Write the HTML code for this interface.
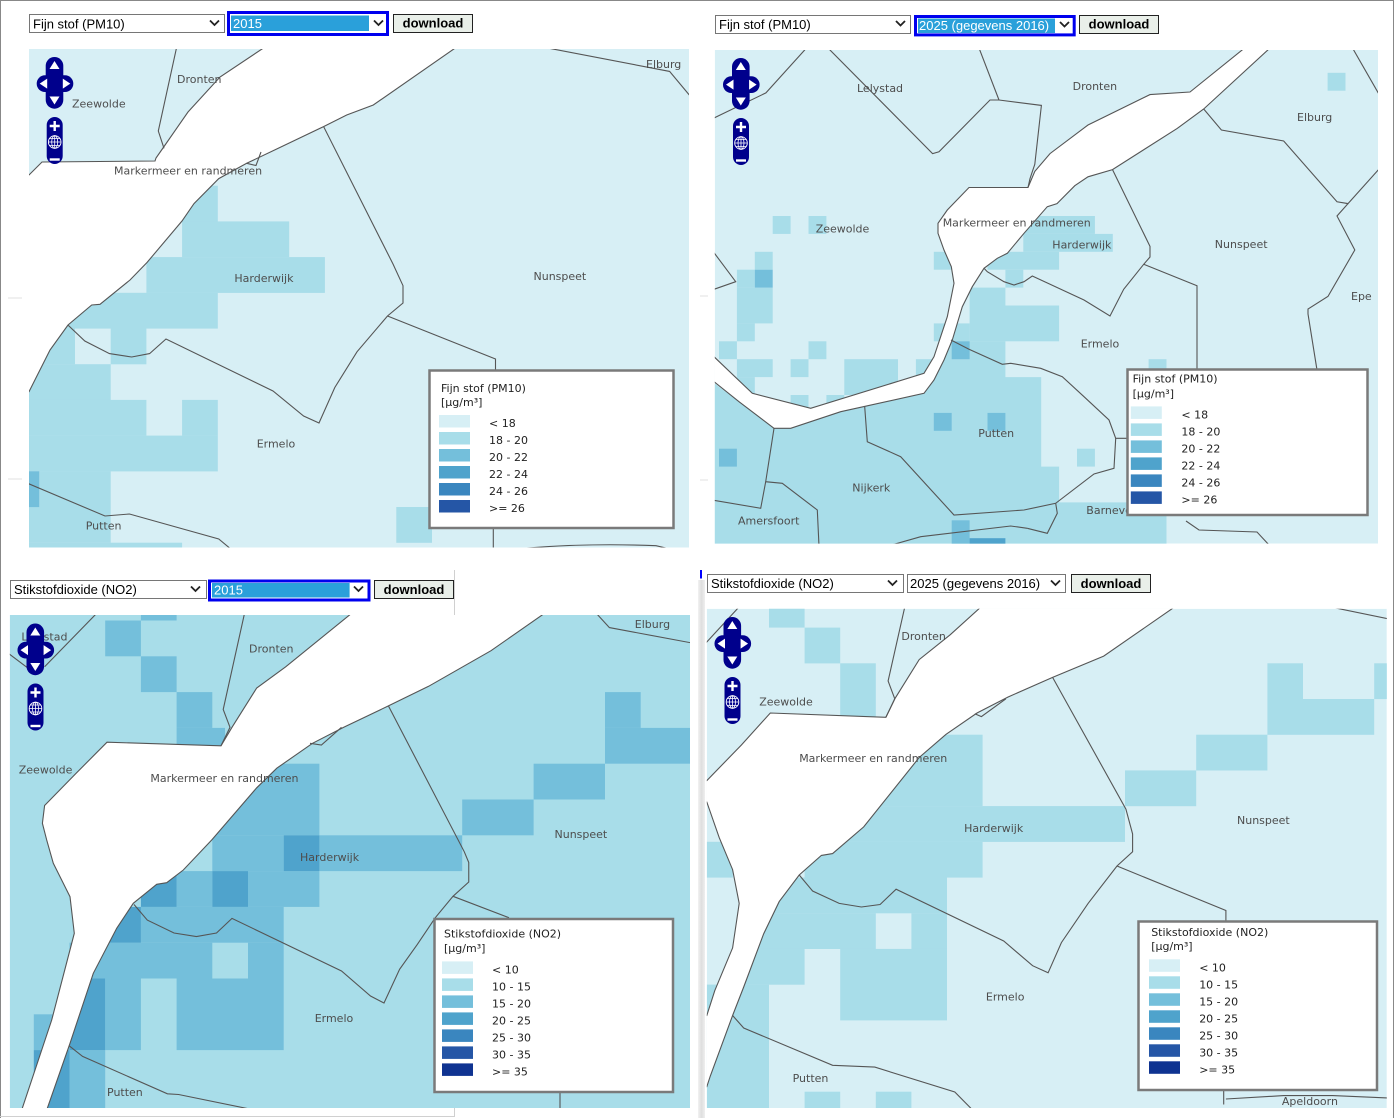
<!DOCTYPE html>
<html><head><meta charset="utf-8"><style>
html,body{margin:0;padding:0;background:#fff;}
body{width:1394px;height:1118px;overflow:hidden;}
svg{display:block;}
.l{font-family:"DejaVu Sans",Verdana,sans-serif;font-size:11px;fill:#4d4d4d;}
.g{font-family:"DejaVu Sans",Verdana,sans-serif;font-size:11px;fill:#222;}
.s{font-family:"Liberation Sans",Arial,sans-serif;font-size:13px;fill:#000;}
.sw{font-family:"Liberation Sans",Arial,sans-serif;font-size:13px;fill:#fff;}
.b{font-family:"Liberation Sans",Arial,sans-serif;font-size:13px;font-weight:bold;fill:#000;}
.ln{fill:none;stroke:#555;stroke-width:1.1;}
.lk{fill:#fff;stroke:#555;stroke-width:1.1;}
.ch{fill:none;stroke:#222;stroke-width:1.8;}
</style></head><body>
<svg width="1394" height="1118" viewBox="0 0 1394 1118" xmlns="http://www.w3.org/2000/svg">
<defs>
<clipPath id="c1"><rect x="29" y="49" width="660" height="498.5"/></clipPath>
<clipPath id="c2"><rect x="714.8" y="50" width="663.2" height="493.6"/></clipPath>
<clipPath id="c3"><rect x="9.8" y="615" width="680.2" height="493"/></clipPath>
<clipPath id="c4"><rect x="706.8" y="608.8" width="680" height="499.2"/></clipPath>
<linearGradient id="gs" x1="0" x2="1" y1="0" y2="0"><stop offset="0" stop-color="#f2f2f2"/><stop offset="0.5" stop-color="#dedede"/><stop offset="1" stop-color="#efefef"/></linearGradient>
<g id="nav">
 <rect x="9" y="0" width="17.6" height="51.7" rx="8.8" fill="#00008c"/>
 <rect x="0" y="18.3" width="36.6" height="16.7" rx="8.3" fill="#00008c"/>
 <polygon points="17.8,4 12.8,12 22.8,12" fill="#fff"/>
 <polygon points="17.8,47.5 12.8,39.5 22.8,39.5" fill="#fff"/>
 <polygon points="3,26.6 10.5,21.6 10.5,31.6" fill="#fff"/>
 <polygon points="33.6,26.6 26.1,21.6 26.1,31.6" fill="#fff"/>
 <rect x="10" y="60" width="16" height="47" rx="8" fill="#00008c"/>
 <path d="M13,69h10M18,64v10" stroke="#fff" stroke-width="2.4"/>
 <circle cx="18" cy="85" r="6.3" fill="none" stroke="#fff" stroke-width="0.9"/>
 <ellipse cx="18" cy="85" rx="3" ry="6.3" fill="none" stroke="#fff" stroke-width="0.8"/>
 <path d="M11.7,85h12.6M12.5,81.5h11M12.5,88.5h11M18,78.7v12.6" stroke="#fff" stroke-width="0.8"/>
 <path d="M13,102.5h10" stroke="#fff" stroke-width="2.4"/>
</g>
</defs>

<!-- page frame -->
<rect x="0" y="0" width="1394" height="1118" fill="#fff"/>
<line x1="0" y1="0.5" x2="1394" y2="0.5" stroke="#888" stroke-width="1"/>
<line x1="0.5" y1="0" x2="0.5" y2="1118" stroke="#888" stroke-width="1"/>
<line x1="1393.5" y1="0" x2="1393.5" y2="1118" stroke="#888" stroke-width="1"/>
<line x1="454.5" y1="570" x2="454.5" y2="1117" stroke="#d0d0d0" stroke-width="1"/>
<line x1="0" y1="1116.5" x2="454.5" y2="1116.5" stroke="#d0d0d0" stroke-width="1"/>
<rect x="698" y="580" width="7" height="538" fill="url(#gs)"/>
<rect x="700" y="570" width="2" height="8.5" fill="#0000ff"/>
<path d="M8,298h14M8,479h14M700,296h8M700,480h8" stroke="#e0e0e0" stroke-width="1"/>

<!-- ================= PANEL 1 ================= -->
<rect x="29.5" y="14.5" width="195" height="18" fill="#fff" stroke="#767676"/>
<text class="s" x="33" y="28.5">Fijn stof (PM10)</text>
<polyline class="ch" points="210,20.5 214.5,25 219,20.5"/>
<rect x="228.5" y="12.5" width="159" height="22" fill="#fff" stroke="#0000ee" stroke-width="3"/>
<rect x="231" y="15.5" width="138" height="15.5" fill="#2aa0da"/>
<text class="sw" x="233" y="28">2015</text>
<polyline class="ch" points="374,20.5 378.5,25 383,20.5"/>
<rect x="393.5" y="14.5" width="79" height="18" fill="#e9efe9" stroke="#222"/>
<text class="b" x="433" y="27.5" text-anchor="middle">download</text>

<g clip-path="url(#c1)">
<rect x="29" y="49" width="660" height="498.5" fill="#d7eff5"/>
<g fill="#a8dde9">
<rect x="182.1" y="185.7" width="35.7" height="35.8"/>
<rect x="182.1" y="221.4" width="107.1" height="35.8"/>
<rect x="146.4" y="257.1" width="178.5" height="35.8"/>
<rect x="29" y="292.8" width="188.8" height="35.8"/>
<rect x="29" y="328.5" width="46" height="35.8"/>
<rect x="110.7" y="328.5" width="35.7" height="35.8"/>
<rect x="29" y="364.2" width="81.7" height="35.8"/>
<rect x="29" y="399.9" width="117.4" height="35.8"/>
<rect x="182.1" y="399.9" width="35.7" height="35.8"/>
<rect x="29" y="435.6" width="188.8" height="35.8"/>
<rect x="39.3" y="471.3" width="71.4" height="35.8"/>
<rect x="29" y="507" width="81.7" height="35.8"/>
<rect x="396.3" y="507" width="35.7" height="35.8"/>
<rect x="29" y="542.7" width="153.1" height="6"/>
</g>
<rect x="29" y="471.3" width="10.3" height="35.8" fill="#74bfdb"/>
<path class="lk" d="M265,47 L220,77 L188,112 L163,148 L156,158 L155,161 L42,162 L29,175 L27,175 L27,392 L29,391.7 L50,350 L68,325 L91.7,305 L100,304.3 L130,280 L147,262.5 L182,221 L194,203.6 L218.75,178.6 L246.7,163.3 L276.7,149 L323.3,126.7 L346.7,115 L373.3,105 L456.7,47 Z"/>
<path class="ln" d="M246.7,163.3 L256,165.5 L261,152"/>
<path class="ln" d="M67.9,325 L84.8,341 L109.4,353.6 L131.7,357 L149.6,353.6 L166,339 L273,391 L303.6,416 L319,423 L334.8,387.5 L357,351.8 L387.5,316 L403,303 L403,285.7 L393,264 L323.7,126.8"/>
<path class="ln" d="M387.5,316 L495.5,359 L495.5,372"/>
<path class="ln" d="M493.3,526 L493.3,550"/>
<path class="ln" d="M526.8,548 Q590,543 656,545.7 L666,548"/>
<path class="ln" d="M27,483 L105,516 L129.5,514 L218.75,539 L232,550"/>
<path class="ln" d="M542.4,47 L669.6,71.4 L691,97"/>
<path class="ln" d="M176.7,47 L158.3,131 L164,148.3"/>
<text class="l" x="177" y="83">Dronten</text>
<text class="l" x="72" y="107.5">Zeewolde</text>
<text class="l" x="114" y="174.5">Markermeer en randmeren</text>
<text class="l" x="646" y="68">Elburg</text>
<text class="l" x="234.4" y="282">Harderwijk</text>
<text class="l" x="533.5" y="280">Nunspeet</text>
<text class="l" x="256.7" y="447.5">Ermelo</text>
<text class="l" x="85.7" y="529.5">Putten</text>
<rect x="429.5" y="370.5" width="244" height="157.5" fill="#fff" stroke="#7a7a7a" stroke-width="2.5"/>
<text class="g" x="441" y="392">Fijn stof (PM10)</text>
<text class="g" x="441" y="406">[μg/m³]</text>
<rect x="439" y="415" width="31" height="12.5" fill="#d7eff5"/>
<rect x="439" y="432" width="31" height="12.5" fill="#a8dde9"/>
<rect x="439" y="449" width="31" height="12.5" fill="#74bfdb"/>
<rect x="439" y="466" width="31" height="12.5" fill="#4fa3cc"/>
<rect x="439" y="483" width="31" height="12.5" fill="#3a86bf"/>
<rect x="439" y="500" width="31" height="12.5" fill="#2556a6"/>
<text class="g" x="489" y="427">&lt; 18</text>
<text class="g" x="489" y="444">18 - 20</text>
<text class="g" x="489" y="461">20 - 22</text>
<text class="g" x="489" y="478">22 - 24</text>
<text class="g" x="489" y="495">24 - 26</text>
<text class="g" x="489" y="512">&gt;= 26</text>
</g>
<use href="#nav" x="36.7" y="57"/>

<!-- ================= PANEL 2 ================= -->
<rect x="715.5" y="15.5" width="195" height="18" fill="#fff" stroke="#767676"/>
<text class="s" x="719" y="29">Fijn stof (PM10)</text>
<polyline class="ch" points="896,21 900.5,25.5 905,21"/>
<rect x="915.5" y="16.5" width="158.7" height="18.4" fill="#fff" stroke="#0000ee" stroke-width="3"/>
<rect x="918" y="18.5" width="137" height="14.5" fill="#2aa0da"/>
<text class="sw" x="919" y="30">2025 (gegevens 2016)</text>
<polyline class="ch" points="1060,22 1064.5,26.5 1069,22"/>
<rect x="1079.5" y="15.5" width="79" height="18" fill="#e9efe9" stroke="#222"/>
<text class="b" x="1119" y="28.5" text-anchor="middle">download</text>

<g clip-path="url(#c2)">
<rect x="714.8" y="50" width="663.2" height="493.6" fill="#d7eff5"/>
<g fill="#a8dde9">
<rect x="1327.6" y="72.8" width="17.9" height="17.9"/>
<rect x="772.7" y="216" width="17.9" height="17.9"/>
<rect x="808.5" y="216" width="17.9" height="17.9"/>
<rect x="1023.3" y="216" width="71.6" height="17.9"/>
<rect x="1023.3" y="233.9" width="89.5" height="17.9"/>
<rect x="754.8" y="251.8" width="17.9" height="17.9"/>
<rect x="933.8" y="251.8" width="17.9" height="17.9"/>
<rect x="987.5" y="251.8" width="71.6" height="17.9"/>
<rect x="736.9" y="269.7" width="17.9" height="17.9"/>
<rect x="1005.4" y="269.7" width="17.9" height="17.9"/>
<rect x="736.9" y="287.6" width="35.8" height="35.8"/>
<rect x="969.6" y="287.6" width="35.8" height="17.9"/>
<rect x="969.6" y="305.5" width="89.5" height="35.8"/>
<rect x="736.9" y="323.4" width="17.9" height="17.9"/>
<rect x="933.8" y="323.4" width="35.8" height="17.9"/>
<rect x="719" y="341.3" width="17.9" height="17.9"/>
<rect x="808.5" y="341.3" width="17.9" height="17.9"/>
<rect x="736.9" y="359.2" width="35.8" height="17.9"/>
<rect x="790.6" y="359.2" width="17.9" height="17.9"/>
<rect x="844.3" y="359.2" width="53.7" height="35.8"/>
<rect x="915.9" y="359.2" width="17.9" height="17.9"/>
<rect x="1148.6" y="359.2" width="17.9" height="17.9"/>
<rect x="736.9" y="377.1" width="17.9" height="17.9"/>
<rect x="790.6" y="395" width="17.9" height="17.9"/>
<rect x="826.4" y="395" width="17.9" height="17.9"/>
<path d="M712,381.7 L739,401.7 L774,428.3 L790.7,428.3 L840.7,411.7 L924,393.3 L934,380 L944,360 L948,341.3 L1005.4,341.3 L1005.4,377.1 L1041.2,377.1 L1041.2,466.6 L1059.1,466.6 L1059.1,502.4 L1166.5,502.4 L1166.5,546 L712,546 Z"/>
<rect x="1077" y="448.7" width="17.9" height="17.9"/>
</g>
<g fill="#74bfdb">
<rect x="754.8" y="269.7" width="17.9" height="17.9"/>
<rect x="951.7" y="341.3" width="17.9" height="17.9"/>
<rect x="933.8" y="412.9" width="17.9" height="17.9"/>
<rect x="987.5" y="412.9" width="17.9" height="17.9"/>
<rect x="719" y="448.7" width="17.9" height="17.9"/>
<rect x="951.7" y="520.3" width="17.9" height="25"/>
</g>
<rect x="969.6" y="538.2" width="35.8" height="7" fill="#4fa3cc"/>
<path class="lk" d="M1244.6,48 L1190,92 L1150,94.6 L1088,125 L1050,153.6 L1034.8,171.4 L1028,187.5 L969,187.5 L947.3,210 L938,223.3 L938,233.3 L944,250 L951.3,266.7 L954,283.3 L947.3,316.7 L934,356.7 L924,373.3 L810.7,408.3 L752.3,393.3 L714,356.7 L712,356.7 L712,381.7 L714,381.7 L739,401.7 L774,428.3 L790.7,428.3 L840.7,411.7 L924,393.3 L934,380 L944,360 L952.3,340 L962.3,306.7 L972.3,286.7 L984,268.3 L997.3,258.3 L1007.3,253.3 L1024,233.3 L1047.3,206.7 L1057,203.6 L1074.8,185.7 L1088,176.8 L1112.5,169.6 L1177,128.6 L1203.7,109 L1270,48 Z"/>
<path class="ln" d="M712,119 L765.9,92.9 L806.5,48"/>
<path class="ln" d="M828,48 L932.6,153.6 L939,151.8 L990,100 L999,100 L1041.4,105.4 L1034.8,164.3 L1030,178.6 L1028,187.5"/>
<path class="ln" d="M979,48 L999,100"/>
<path class="ln" d="M1203.7,109 L1221.4,130 L1283.7,141 L1337,201.8 L1348,203.6 L1380,168"/>
<path class="ln" d="M1352.5,48 L1380,96"/>
<path class="ln" d="M1348,203.6 L1337,216 L1354.8,250 L1328,296.4 L1308,309 L1308,314 L1317,370"/>
<path class="ln" d="M1112.5,169.6 L1150,246.4 L1150,257 L1143.7,264.3 L1123.7,289.3 L1110,316 L1084,300 L1032.3,276 L1024,281.7 L1014,285 L1004,281.7 L987.3,271.7 L984,268.3"/>
<path class="ln" d="M1143.7,264.3 L1197,285.7 L1197,370"/>
<path class="ln" d="M951,340 L969,349.3 L1002.3,364.3 L1010.7,363.3 L1040.7,368.3 L1062.3,376.7 L1084,396.7 L1109,420 L1115.7,438.3 L1127.3,438.3"/>
<path class="ln" d="M1115.7,438.3 L1114,468.3 L1094,474 L1055.7,503.3 L1024,510 L954,515 L900.7,456.7 L867.3,441.7 L864.7,406.7"/>
<path class="ln" d="M1055.7,503.3 L1057.3,513.3 L1047.3,533.3 L1027.3,528.3"/>
<path class="ln" d="M888,546 L920.7,536.7 L1010.7,526 L1027.3,528.3"/>
<path class="ln" d="M774,428.3 L765.7,481.7 L782.3,483.3 L817.3,510 L819,546"/>
<path class="ln" d="M712,500 L760.7,508.3 L765.7,481.7"/>
<path class="ln" d="M712,250 L735.7,281.7 L712,290"/>
<path class="ln" d="M1186,521 L1199,530 L1257,532 L1270,546"/>
<text class="l" x="857" y="92">Lelystad</text>
<text class="l" x="1072.6" y="90">Dronten</text>
<text class="l" x="1297" y="121">Elburg</text>
<text class="l" x="815.7" y="232.5">Zeewolde</text>
<text class="l" x="942.7" y="226.5">Markermeer en randmeren</text>
<text class="l" x="1052.3" y="248.5">Harderwijk</text>
<text class="l" x="1214.8" y="248">Nunspeet</text>
<text class="l" x="1351" y="300">Epe</text>
<text class="l" x="1080.7" y="347.7">Ermelo</text>
<text class="l" x="978.3" y="437">Putten</text>
<text class="l" x="852.3" y="491.3">Nijkerk</text>
<text class="l" x="738" y="524.7">Amersfoort</text>
<text class="l" x="1086.3" y="514">Barneveld</text>
<rect x="1127.5" y="369.5" width="240" height="145.5" fill="#fff" stroke="#7a7a7a" stroke-width="2.5"/>
<text class="g" x="1132.6" y="382.6">Fijn stof (PM10)</text>
<text class="g" x="1132.6" y="397.6">[μg/m³]</text>
<rect x="1130.8" y="406.4" width="31" height="12.5" fill="#d7eff5"/>
<rect x="1130.8" y="423.4" width="31" height="12.5" fill="#a8dde9"/>
<rect x="1130.8" y="440.4" width="31" height="12.5" fill="#74bfdb"/>
<rect x="1130.8" y="457.4" width="31" height="12.5" fill="#4fa3cc"/>
<rect x="1130.8" y="474.4" width="31" height="12.5" fill="#3a86bf"/>
<rect x="1130.8" y="491.4" width="31" height="12.5" fill="#2556a6"/>
<text class="g" x="1181.4" y="418.4">&lt; 18</text>
<text class="g" x="1181.4" y="435.4">18 - 20</text>
<text class="g" x="1181.4" y="452.4">20 - 22</text>
<text class="g" x="1181.4" y="469.4">22 - 24</text>
<text class="g" x="1181.4" y="486.4">24 - 26</text>
<text class="g" x="1181.4" y="503.4">&gt;= 26</text>
</g>
<use href="#nav" x="723" y="58"/>

<!-- ================= PANEL 3 ================= -->
<rect x="10.5" y="580.5" width="196" height="18" fill="#fff" stroke="#767676"/>
<text class="s" x="14" y="594">Stikstofdioxide (NO2)</text>
<polyline class="ch" points="191,586.5 195.5,591 200,586.5"/>
<rect x="209.5" y="581" width="159.5" height="19" fill="#fff" stroke="#0000ee" stroke-width="3"/>
<rect x="212" y="583" width="137.6" height="14.5" fill="#2aa0da"/>
<text class="sw" x="214" y="594.5">2015</text>
<polyline class="ch" points="354,586.5 358.5,591 363,586.5"/>
<rect x="374.5" y="580.5" width="79" height="18" fill="#e9efe9" stroke="#222"/>
<text class="b" x="414" y="594" text-anchor="middle">download</text>

<g clip-path="url(#c3)">
<rect x="9.8" y="615" width="680.2" height="493" fill="#a8dde9"/>
<g fill="#74bfdb">
<rect x="140.9" y="613" width="35.7" height="7.5"/>
<rect x="105.2" y="620.5" width="35.7" height="35.8"/>
<rect x="140.9" y="656.3" width="35.7" height="35.8"/>
<rect x="176.6" y="692.1" width="35.7" height="35.8"/>
<rect x="605" y="692.1" width="35.7" height="35.8"/>
<rect x="176.6" y="727.9" width="48.4" height="35.8"/>
<rect x="605" y="727.9" width="87" height="35.8"/>
<rect x="533.6" y="763.7" width="71.4" height="35.8"/>
<rect x="248" y="763.7" width="71.4" height="35.8"/>
<rect x="212.3" y="799.5" width="107.1" height="35.8"/>
<rect x="462.2" y="799.5" width="71.4" height="35.8"/>
<rect x="212.3" y="835.3" width="71.4" height="35.8"/>
<rect x="319.4" y="835.3" width="142.8" height="35.8"/>
<rect x="176.6" y="871.1" width="35.7" height="35.8"/>
<rect x="248" y="871.1" width="71.4" height="35.8"/>
<rect x="140.9" y="906.9" width="142.8" height="35.8"/>
<rect x="69.5" y="942.7" width="142.8" height="35.8"/>
<rect x="248" y="942.7" width="35.7" height="35.8"/>
<rect x="105.2" y="978.5" width="35.7" height="71.6"/>
<rect x="176.6" y="978.5" width="107.1" height="71.6"/>
<rect x="33.8" y="1014.3" width="35.7" height="35.8"/>
<rect x="69.5" y="1050.1" width="35.7" height="60"/>
</g>
<g fill="#4fa3cc">
<rect x="283.7" y="835.3" width="35.7" height="35.8"/>
<rect x="140.9" y="871.1" width="35.7" height="35.8"/>
<rect x="212.3" y="871.1" width="35.7" height="35.8"/>
<rect x="105.2" y="906.9" width="35.7" height="35.8"/>
<rect x="69.5" y="978.5" width="35.7" height="71.6"/>
<rect x="33.8" y="1050.1" width="35.7" height="60"/>
</g>
<path class="lk" d="M107,742.2 L221,745.8 L232,727.3 L256.7,688 L285.7,666.8 L352,613 L545,613 L491,650.7 L428.6,686.3 L388.4,705.9 L343.75,727.3 L312.5,743.3 L276.8,768.2 L256.7,787.8 L211.7,840 L183.3,870 L166.7,882.7 L156.7,884.3 L133.3,903.3 L116.7,928.3 L93.3,973.3 L70,1043.3 L46.7,1110 L21.7,1110 L51.7,1020 L71.7,943.3 L74.3,933.3 L70,896.7 L53.3,863.3 L46.7,840 L42.4,823.3 L44.6,805.5 L75.9,773.5 Z"/>
<path class="ln" d="M8,653 L35.7,673.9"/>
<path class="ln" d="M44.6,666.8 L97,613"/>
<path class="ln" d="M244.6,613 L223.2,709.5 L230,727.3 L221,745.8"/>
<path class="ln" d="M596,613 L609.4,627.6 L692,643"/>
<path class="ln" d="M388.4,705.9 L464.3,851.8 L468.75,862.5 L468.75,882 L453,896.3 L435.3,917.7 L417.4,944.3 L399.6,969.3 L384,1003 L370.5,996 L341.5,971 L232,918.4 L216.5,933 L196.4,936.6 L174,933 L147.3,920.1 L134,904.5"/>
<path class="ln" d="M453,896.3 L509,917.7"/>
<path class="ln" d="M560,1088 L560,1110"/>
<path class="ln" d="M69.2,1045.8 L82.6,1056.4 L167.4,1093.8 L178.6,1094.5 L254.5,1110"/>
<path class="ln" d="M310,743.3 L321.4,745 L341.5,727.3"/>
<text class="l" x="21.4" y="640.5">Lelystad</text>
<text class="l" x="249" y="652.3">Dronten</text>
<text class="l" x="634.8" y="628">Elburg</text>
<text class="l" x="18.75" y="773.3">Zeewolde</text>
<text class="l" x="150.4" y="782">Markermeer en randmeren</text>
<text class="l" x="300" y="861">Harderwijk</text>
<text class="l" x="554.5" y="838">Nunspeet</text>
<text class="l" x="314.7" y="1022">Ermelo</text>
<text class="l" x="107" y="1096">Putten</text>
<rect x="434.5" y="919" width="238.5" height="173" fill="#fff" stroke="#7a7a7a" stroke-width="2.5"/>
<text class="g" x="444" y="937.7">Stikstofdioxide (NO2)</text>
<text class="g" x="444" y="952">[μg/m³]</text>
<rect x="442" y="961.4" width="31" height="12.5" fill="#d7eff5"/>
<rect x="442" y="978.4" width="31" height="12.5" fill="#a8dde9"/>
<rect x="442" y="995.4" width="31" height="12.5" fill="#74bfdb"/>
<rect x="442" y="1012.4" width="31" height="12.5" fill="#4fa3cc"/>
<rect x="442" y="1029.4" width="31" height="12.5" fill="#3a86bf"/>
<rect x="442" y="1046.4" width="31" height="12.5" fill="#2556a6"/>
<rect x="442" y="1063.4" width="31" height="12.5" fill="#0f3391"/>
<text class="g" x="492" y="973.4">&lt; 10</text>
<text class="g" x="492" y="990.4">10 - 15</text>
<text class="g" x="492" y="1007.4">15 - 20</text>
<text class="g" x="492" y="1024.4">20 - 25</text>
<text class="g" x="492" y="1041.4">25 - 30</text>
<text class="g" x="492" y="1058.4">30 - 35</text>
<text class="g" x="492" y="1075.4">&gt;= 35</text>
</g>
<use href="#nav" x="17.5" y="623.5"/>

<!-- ================= PANEL 4 ================= -->
<rect x="707.5" y="574.5" width="196" height="18" fill="#fff" stroke="#767676"/>
<text class="s" x="711" y="588">Stikstofdioxide (NO2)</text>
<polyline class="ch" points="888,580.5 892.5,585 897,580.5"/>
<rect x="907.5" y="574.5" width="158" height="18" fill="#fff" stroke="#767676"/>
<text class="s" x="910" y="588">2025 (gegevens 2016)</text>
<polyline class="ch" points="1051,580.5 1055.5,585 1060,580.5"/>
<rect x="1071.5" y="574.5" width="79" height="18" fill="#e9efe9" stroke="#222"/>
<text class="b" x="1111" y="588" text-anchor="middle">download</text>

<g clip-path="url(#c4)">
<rect x="706.8" y="608.8" width="680" height="499.2" fill="#d7eff5"/>
<g fill="#a8dde9">
<rect x="769" y="606" width="35.6" height="21.6"/>
<rect x="804.6" y="627.6" width="35.6" height="35.8"/>
<rect x="840.2" y="663.3" width="35.6" height="71.5"/>
<rect x="1267.4" y="663.3" width="35.6" height="35.8"/>
<rect x="1374.2" y="663.3" width="15" height="35.8"/>
<rect x="1267.4" y="699" width="106.8" height="35.8"/>
<rect x="840.2" y="734.7" width="142.4" height="71.5"/>
<rect x="1196.2" y="734.7" width="71.2" height="35.8"/>
<rect x="1125" y="770.4" width="71.2" height="35.8"/>
<rect x="804.6" y="806.1" width="320.4" height="35.8"/>
<rect x="804.6" y="841.8" width="178" height="35.8"/>
<rect x="706.8" y="841.8" width="26" height="35.8"/>
<rect x="740" y="877.5" width="207" height="35.8"/>
<rect x="740" y="913.2" width="135.8" height="35.8"/>
<rect x="911.4" y="913.2" width="35.6" height="35.8"/>
<rect x="740" y="948.9" width="64.6" height="35.8"/>
<rect x="840.2" y="948.9" width="106.8" height="71.5"/>
<rect x="706.8" y="984.6" width="62.2" height="125"/>
<rect x="804.6" y="1091.7" width="35.6" height="18"/>
<rect x="875.8" y="1091.7" width="35.6" height="18"/>
</g>
<path class="lk" d="M770.3,713 L885.9,717.3 L894.8,698.8 L919.2,659.6 L950.3,634.7 L982,606 L1176,606 L1103.7,656.1 L1052.6,677.4 L1008.1,697 L977,713 L945.9,734.4 L919.2,757.5 L863.7,826.9 L832.6,853.6 L821.4,855.4 L799.2,875 L779.2,901.6 L763.7,933.7 L743.7,987 L732.6,1015.5 L710.3,1076 L706.8,1086.7 L704,1086.7 L704,1015 L706.8,1015.5 L714.8,990.6 L732.6,947.9 L739.2,903.4 L732.6,869.6 L719.2,837.6 L706.8,802 L704,802 L704,780 L706.8,780.6 L741.4,745 Z"/>
<path class="ln" d="M905,606 L888.1,681 L894.8,698.8 L885.9,717.3"/>
<path class="ln" d="M704,645 L739,607"/>
<path class="ln" d="M1325.9,606 L1389,619"/>
<path class="ln" d="M1052.6,677.4 L1125.9,809.1 L1132.6,834 L1132.6,851.8 L1117,866 L1088.1,903.4 L1061.4,942.6 L1048.1,972.8 L1032.6,965.7 L1003.7,941 L896.1,889.2 L880.1,904.5 L861.4,907 L839.2,903.4 L812.6,891 L799.2,875"/>
<path class="ln" d="M1117,866 L1225.9,910.5 L1225.9,922"/>
<path class="ln" d="M732.6,1015.5 L743.7,1028 L832.6,1065.3 L874.8,1067.1 L954.8,1092 L972.6,1110"/>
<path class="ln" d="M1223.7,1089 L1223.7,1104.5"/>
<path class="ln" d="M1225.9,1099 L1283.7,1095.6 L1332.6,1095.6 L1389,1098"/>
<path class="ln" d="M974.8,713.7 L981.4,716.6 L1005.9,698.8"/>
<text class="l" x="901.4" y="639.8">Dronten</text>
<text class="l" x="759.2" y="705.6">Zeewolde</text>
<text class="l" x="799.2" y="762.2">Markermeer en randmeren</text>
<text class="l" x="964.1" y="832">Harderwijk</text>
<text class="l" x="1237" y="824">Nunspeet</text>
<text class="l" x="985.9" y="1000.7">Ermelo</text>
<text class="l" x="792.6" y="1081.8">Putten</text>
<text class="l" x="1281.9" y="1105">Apeldoorn</text>
<rect x="1138.5" y="921.5" width="238.5" height="168.5" fill="#fff" stroke="#7a7a7a" stroke-width="2.5"/>
<text class="g" x="1151.2" y="936">Stikstofdioxide (NO2)</text>
<text class="g" x="1151.2" y="950">[μg/m³]</text>
<rect x="1149" y="959.3" width="31" height="12.5" fill="#d7eff5"/>
<rect x="1149" y="976.3" width="31" height="12.5" fill="#a8dde9"/>
<rect x="1149" y="993.3" width="31" height="12.5" fill="#74bfdb"/>
<rect x="1149" y="1010.3" width="31" height="12.5" fill="#4fa3cc"/>
<rect x="1149" y="1027.3" width="31" height="12.5" fill="#3a86bf"/>
<rect x="1149" y="1044.3" width="31" height="12.5" fill="#2556a6"/>
<rect x="1149" y="1061.3" width="31" height="12.5" fill="#0f3391"/>
<text class="g" x="1199.2" y="971.3">&lt; 10</text>
<text class="g" x="1199.2" y="988.3">10 - 15</text>
<text class="g" x="1199.2" y="1005.3">15 - 20</text>
<text class="g" x="1199.2" y="1022.3">20 - 25</text>
<text class="g" x="1199.2" y="1039.3">25 - 30</text>
<text class="g" x="1199.2" y="1056.3">30 - 35</text>
<text class="g" x="1199.2" y="1073.3">&gt;= 35</text>
</g>
<use href="#nav" x="714.5" y="617"/>
</svg>
</body></html>
